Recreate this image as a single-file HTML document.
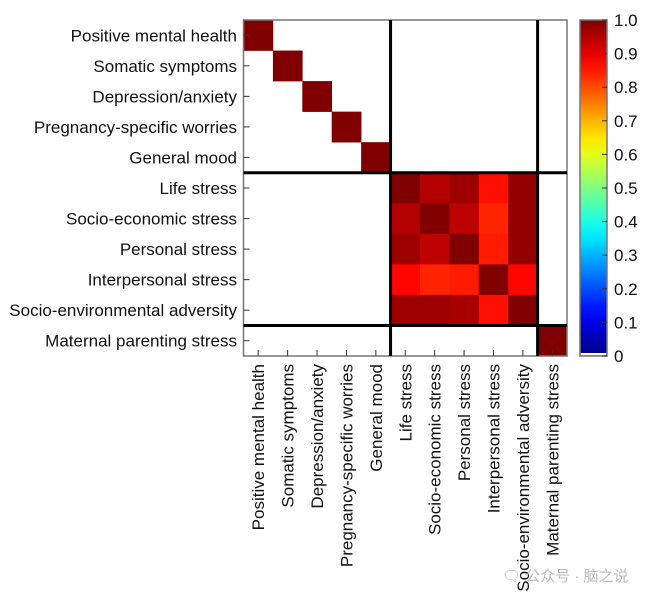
<!DOCTYPE html>
<html><head><meta charset="utf-8"><style>
body{margin:0;background:#fff;width:654px;height:601px;overflow:hidden}
text{font-family:"Liberation Sans","Noto Sans CJK SC",sans-serif;font-size:17px;fill:#111}
</style></head><body>
<svg id="chart" width="654" height="601" xmlns="http://www.w3.org/2000/svg"></svg>
<script>
const categories=["Positive mental health","Somatic symptoms","Depression/anxiety","Pregnancy-specific worries","General mood","Life stress","Socio-economic stress","Personal stress","Interpersonal stress","Socio-environmental adversity","Maternal parenting stress"];
const stressBlock=[
[1.00,0.95,0.97,0.86,0.98],
[0.95,1.00,0.94,0.84,0.98],
[0.97,0.94,1.00,0.85,0.98],
[0.87,0.84,0.85,1.00,0.87],
[0.97,0.97,0.96,0.86,1.00]];
const cbTicks=[0,0.1,0.2,0.3,0.4,0.5,0.6,0.7,0.8,0.9,1.0];
const cbTickLabels=["0","0.1","0.2","0.3","0.4","0.5","0.6","0.7","0.8","0.9","1.0"];
const groupBreaks=[5,10];

const NS="http://www.w3.org/2000/svg";
const svg=document.getElementById('chart');
const L=243.5,T=20,R=567,B=356,n=categories.length;
const cw=(R-L)/n,ch=(B-T)/n;
const xS=i=>L+i*cw, yS=i=>T+i*ch;
function mk(t,a){const e=document.createElementNS(NS,t);for(const k in a)e.setAttribute(k,a[k]);svg.appendChild(e);return e;}
function jet(v){
  const f=x=>Math.max(0,Math.min(1,x));
  const r=f(1.5-Math.abs(4*v-3)),g=f(1.5-Math.abs(4*v-2)),b=f(1.5-Math.abs(4*v-1));
  return `rgb(${Math.round(r*255)},${Math.round(g*255)},${Math.round(b*255)})`;
}
const M=[];for(let i=0;i<n;i++){M.push(new Array(n).fill(0));M[i][i]=1;}
for(let i=0;i<5;i++)for(let j=0;j<5;j++)M[5+i][5+j]=stressBlock[i][j];
for(let i=0;i<n;i++)for(let j=0;j<n;j++){
  if(M[i][j]<0.01)continue;
  const c=mk('rect',{x:xS(j),y:yS(i),width:cw+0.3,height:ch+0.3,fill:jet(M[i][j])});
  
  
}
const fr=mk('rect',{x:L,y:T,width:R-L,height:B-T,fill:'none',stroke:'#777','stroke-width':1.5});

groupBreaks.forEach(g=>{
  const v=mk('line',{x1:xS(g),x2:xS(g),y1:T,y2:B,stroke:'#000','stroke-width':3});
  
  const h=mk('line',{x1:L,x2:R,y1:yS(g),y2:yS(g),stroke:'#000','stroke-width':3});
  
});
categories.forEach((c,i)=>{
  const y=yS(i)+ch/2;
  mk('line',{x1:L,x2:L+6,y1:y,y2:y,stroke:'#333','stroke-width':1});
  const t=mk('text',{x:237,y:y+6,'text-anchor':'end'});t.textContent=c;
  
  const x=xS(i)+cw/2;
  mk('line',{x1:x,x2:x,y1:B,y2:B-6,stroke:'#333','stroke-width':1});
  const tx=mk('text',{x:0,y:0,'text-anchor':'end',transform:`translate(${x+6},364) rotate(-90)`});tx.textContent=c;
  
});
const CL=580,CR=607,CT=20,CB=356;
const defs=mk('defs',{});const lg=document.createElementNS(NS,'linearGradient');
lg.setAttribute('id','jet');lg.setAttribute('x1','0');lg.setAttribute('y1','1');lg.setAttribute('x2','0');lg.setAttribute('y2','0');
for(let k=0;k<=20;k++){const s=document.createElementNS(NS,'stop');s.setAttribute('offset',k/20);s.setAttribute('stop-color',jet(k/20));lg.appendChild(s);}
defs.appendChild(lg);
const cb=mk('rect',{x:CL,y:CT,width:CR-CL,height:CB-CT,fill:'url(#jet)',stroke:'#777','stroke-width':1.5});

mk('rect',{x:CL+0.8,y:CB-3,width:CR-CL-1.6,height:2.2,fill:'#fff'});
const cy=v=>CB-v*(CB-CT);
cbTicks.forEach((v,i)=>{
  mk('line',{x1:CR-5,x2:CR,y1:cy(v),y2:cy(v),stroke:'#333'});
  const t=mk('text',{x:614,y:cy(v)+6});t.textContent=cbTickLabels[i];
  
});
const wm=mk('text',{x:502,y:581,style:'fill:#bbb;font-size:15px'});wm.textContent="🗨 公众号 · 脑之说";

</script>
</body></html>
